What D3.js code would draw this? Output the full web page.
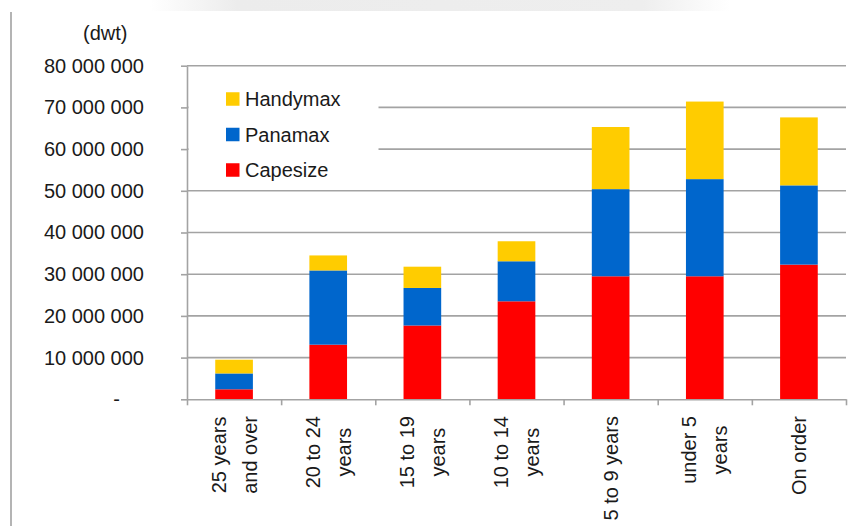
<!DOCTYPE html>
<html>
<head>
<meta charset="utf-8">
<script src="https://cdn.jsdelivr.net/npm/d3@7"></script>
<style>
  html, body { margin: 0; padding: 0; background: #fff; }
  svg text { font-family: "Liberation Sans", Arial, sans-serif; fill: #1a1a1a; }
</style>
</head>
<body>
<div id="canvas"></div>
<script>
// DATA
const categories = ["25 years\nand over", "20 to 24\nyears", "15 to 19\nyears", "10 to 14\nyears", "5 to 9 years", "under 5\nyears", "On order"];
const capesize = [2400000, 13100000, 17700000, 23500000, 29500000, 29500000, 32300000];
const panamax  = [3800000, 17800000, 9000000, 9600000, 20900000, 23300000, 19000000];
const handymax = [3300000, 3600000, 5100000, 4800000, 14900000, 18600000, 16300000];
const seriesNames = ["Capesize", "Panamax", "Handymax"];
const yTicks = [0, 10000000, 20000000, 30000000, 40000000, 50000000, 60000000, 70000000, 80000000];
const unitLabel = "(dwt)";

function drawGraph() {
  // DIMENSIONS
  const width = 858;
  const height = 526;
  const plot = { left: 187, right: 846, top: 65.7, bottom: 399.3 };
  const gridColor = "#a3a3a3";

  const canvas = d3.select("#canvas")
    .append("svg")
    .attr("width", width)
    .attr("height", height);

  // faint banner strip at top
  const defs = canvas.append("defs");
  const grad = defs.append("linearGradient").attr("id", "band");
  grad.append("stop").attr("offset", "0%").attr("stop-color", "#fff");
  grad.append("stop").attr("offset", "15%").attr("stop-color", "#ececec");
  grad.append("stop").attr("offset", "85%").attr("stop-color", "#eeeeee");
  grad.append("stop").attr("offset", "100%").attr("stop-color", "#fff");
  canvas.append("rect")
    .attr("x", 150).attr("y", 0).attr("width", 580).attr("height", 11)
    .attr("fill", "url(#band)");

  // left frame line
  canvas.append("line")
    .attr("x1", 11).attr("x2", 11).attr("y1", 12).attr("y2", height)
    .attr("stroke", "#b4b4b4").attr("stroke-width", 2);

  // MANIPULATE DATA
  const rows = categories.map((c, i) => ({
    cat: c, Capesize: capesize[i], Panamax: panamax[i], Handymax: handymax[i]
  }));
  const stacked = d3.stack().keys(seriesNames)(rows);

  // SCALES
  const scaleX = d3.scaleBand(categories, [plot.left, plot.right])
    .paddingInner(0.6).paddingOuter(0.3);
  const scaleY = d3.scaleLinear([0, 80000000], [plot.bottom, plot.top]);
  const scaleColor = d3.scaleOrdinal(seriesNames, ["#ff0000", "#0066cc", "#ffcc00"]);
  const boundary = d3.scaleLinear([0, categories.length], [plot.left, plot.right]);

  // GRIDLINES
  canvas.append("g")
    .selectAll("line")
    .data(yTicks.slice(1))
    .join("line")
    .attr("x1", plot.left).attr("x2", plot.right)
    .attr("y1", d => scaleY(d)).attr("y2", d => scaleY(d))
    .attr("stroke", gridColor).attr("stroke-width", 1.6);

  // legend background hides part of the grid
  canvas.append("rect")
    .attr("x", plot.left + 1.5).attr("y", scaleY(80000000) + 1.5)
    .attr("width", 190).attr("height", scaleY(50000000) - scaleY(80000000) - 3)
    .attr("fill", "#fff");

  // BARS
  canvas.append("g")
    .selectAll("g")
    .data(stacked)
    .join("g")
    .attr("fill", d => scaleColor(d.key))
    .selectAll("rect")
    .data(d => d)
    .join("rect")
    .attr("x", d => scaleX(d.data.cat))
    .attr("y", d => scaleY(d[1]))
    .attr("width", scaleX.bandwidth())
    .attr("height", d => scaleY(d[0]) - scaleY(d[1]));

  // AXES
  const fmt = v => v === 0 ? "-" : d3.format(",")(v).replace(/,/g, " ");
  const yaxis = canvas.append("g")
    .attr("transform", `translate(${plot.left},0)`)
    .call(d3.axisLeft(scaleY).tickValues(yTicks).tickFormat(fmt)
      .tickSizeInner(6).tickSizeOuter(0).tickPadding(37));
  yaxis.select(".domain").attr("stroke", gridColor).attr("stroke-width", 1.6);
  yaxis.selectAll(".tick line").attr("stroke", gridColor).attr("stroke-width", 1.6);
  yaxis.selectAll(".tick text")
    .style("font-size", "20px")
    .attr("fill", "#1a1a1a")
    .filter(d => d === 0).attr("x", -67);

  const xaxis = canvas.append("g")
    .attr("transform", `translate(0,${plot.bottom})`)
    .call(d3.axisBottom(boundary).tickValues(d3.range(categories.length + 1))
      .tickFormat("").tickSizeInner(6).tickSizeOuter(0));
  xaxis.select(".domain").attr("stroke", gridColor).attr("stroke-width", 1.6);
  xaxis.selectAll(".tick line").attr("stroke", gridColor).attr("stroke-width", 1.6);

  // CATEGORY LABELS (rotated, wrapped)
  const labelTop = 416;
  const lineGap = 31;
  categories.forEach(c => {
    const lines = c.split("\n");
    const cx = scaleX(c) + scaleX.bandwidth() / 2;
    const g = canvas.append("g");
    const texts = lines.map((ln, i) => g.append("text")
      .style("font-size", "20px")
      .attr("text-anchor", "middle")
      .attr("dominant-baseline", "central")
      .text(ln));
    const blockLen = d3.max(texts, t => t.node().getComputedTextLength());
    texts.forEach((t, i) => {
      const x = cx + (i - (lines.length - 1) / 2) * lineGap;
      t.attr("transform", `translate(${x},${labelTop + blockLen / 2}) rotate(-90)`);
    });
  });

  // UNIT LABEL
  canvas.append("text")
    .attr("x", 83).attr("y", 33)
    .attr("dominant-baseline", "central")
    .style("font-size", "20px")
    .text(unitLabel);

  // LEGEND
  const legendLabels = seriesNames.slice().reverse();
  const legend = canvas.append("g");
  legend.selectAll("rect")
    .data(legendLabels)
    .join("rect")
    .attr("x", 226)
    .attr("y", (d, i) => 99 + i * 35.5 - 6.75)
    .attr("width", 13.5).attr("height", 13.5)
    .attr("fill", d => scaleColor(d));
  legend.selectAll("text")
    .data(legendLabels)
    .join("text")
    .attr("x", 245)
    .attr("y", (d, i) => 99 + i * 35.5)
    .attr("dominant-baseline", "central")
    .style("font-size", "20px")
    .text(d => d);
}

drawGraph();
</script>
</body>
</html>
